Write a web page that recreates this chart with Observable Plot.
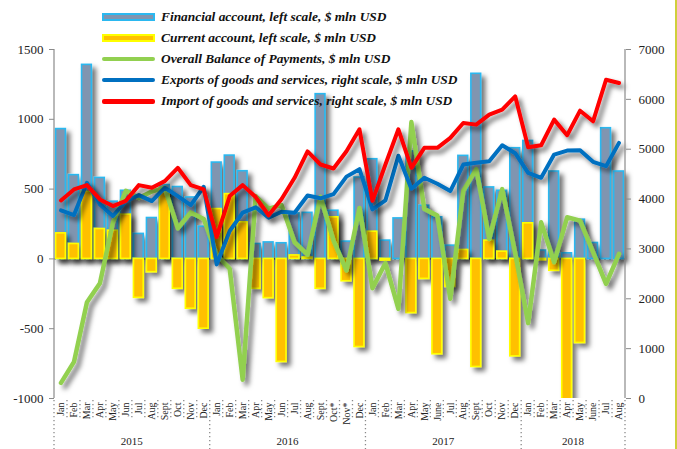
<!DOCTYPE html>
<html><head><meta charset="utf-8">
<script src="https://cdn.jsdelivr.net/npm/d3@7"></script>
<script src="https://cdn.jsdelivr.net/npm/@observablehq/plot@0.6"></script>
<style>
body{margin:0;background:#fff;}
#wrap{position:relative;width:677px;height:449px;overflow:hidden;background:#fff;}
#legend{position:absolute;left:102px;top:6px;font-family:"Liberation Serif","Times New Roman",serif;font-weight:bold;font-style:italic;font-size:13.4px;color:#111;}
.row{display:flex;align-items:center;height:21.2px;}
.sw{width:53px;margin-right:6px;box-sizing:border-box;}
#edge{position:absolute;left:675px;top:0;width:2px;height:449px;background:#cfcf3a;}
svg text{font-family:"Liberation Serif","Times New Roman",serif !important;}
</style></head><body><div id="wrap"><div id="edge"></div><div id="legend"></div></div>
<script>
const years = ["2015","2016","2017","2018"];
const monthLabels = ["Jan","Feb","Mar","Apr","May","Jun","Jul","Aug","Sept","Oct","Nov","Dec",
 "Jan","Feb","Mar","Apr","May","Jun","Jul","Aug","Sept","Oct*","Nov*","Dec",
 "Jan","Feb","Mar","Apr","May","June","Jul","Aug","Sept","Oct","Nov","Dec",
 "Jan","Feb","Mar","Apr","May","June","Jul","Aug"];
// left scale, $ mln USD
const financial = [930,600,1390,580,410,488,179,293,529,515,440,231,
 690,740,628,107,118,112,326,330,1180,345,124,583,
 714,131,290,770,381,298,95,738,1326,512,488,793,
 845,60,626,40,281,114,936,626];
const current = [183,107,480,214,202,317,-279,-95,486,-214,-357,-500,
 357,464,262,-214,-281,-738,25,10,-214,298,-160,-631,
 195,-12,0,-388,-143,-683,-200,64,-774,131,52,-698,
 255,-10,-85,-1040,-602,0,0,0];
const balance = [-888,-738,-310,-174,260,488,436,483,510,219,333,286,
 30,-71,-865,450,360,385,119,30,445,131,-83,365,
 -210,-30,-358,980,357,310,-286,488,643,143,500,40,
 -460,262,-24,298,274,48,-179,36];
// right scale, $ mln USD
const exportsGS = [3773,3680,4327,3893,3660,3960,4080,3960,4227,4060,3880,4247,
 2690,3360,3727,3835,3627,3745,3727,4070,4015,4100,4450,4600,
 3793,3973,4870,4207,4427,4307,4160,4693,4727,4760,5080,4920,
 4527,4427,4893,4973,4980,4747,4660,5127];
const importsGS = [3973,4193,4280,3993,3860,3965,4280,4227,4360,4627,4280,4193,
 3240,4060,4280,4040,3675,4000,4427,4955,4693,4613,4960,5400,
 3965,4693,5400,4627,5027,5027,5227,5527,5493,5693,5793,6060,
 5040,5080,5593,5280,5773,5560,6393,6327];
const leftTicks = [-1000,-500,0,500,1000,1500];
const rightTicks = [0,1000,2000,3000,4000,5000,6000,7000];
const legendItems = [
 {label:"Financial account, left scale, $ mln USD", kind:"bar", fill:"#8095b0", stroke:"#2bb8f0"},
 {label:"Current account, left scale, $ mln USD", kind:"bar", fill:"#ffc000", stroke:"#ffff00"},
 {label:"Overall Balance of Payments, $ mln USD", kind:"line", stroke:"#92d050"},
 {label:"Exports of goods and services, right scale, $ mln USD", kind:"line", stroke:"#0070c0"},
 {label:"Import of goods and services, right scale, $ mln USD", kind:"line", stroke:"#ff0000"}
];

// map right scale (0..7000) onto left scale (-1000..1500)
const toLeft = v => (v - 2800) / 2.8;
const fromLeft = v => Math.round(v * 2.8 + 2800);

const rows = monthLabels.map((m, i) => ({
  i, fin: financial[i], cur: current[i], bal: balance[i],
  exp: toLeft(exportsGS[i]), imp: toLeft(importsGS[i])
}));

const serif = "'Liberation Serif', 'Times New Roman', serif";
const chart = Plot.plot({
  width: 677, height: 449,
  marginLeft: 54, marginRight: 52, marginTop: 49, marginBottom: 51,
  x: {type: "band", domain: d3.range(monthLabels.length), padding: 0, axis: null},
  y: {domain: [-1000, 1500], axis: null},
  style: {fontFamily: serif, fontSize: "13px", color: "#222", background: "transparent", overflow: "visible"},
  marks: [
    Plot.ruleY([0], {stroke: "#9a9a9a", strokeDasharray: "2,3", strokeWidth: 1.6}),
    Plot.barY(rows, {x: "i", y: "fin", fill: "#8095b0", stroke: "#2bb8f0", strokeWidth: 1.6, insetLeft: 1.6, insetRight: 1.6}),
    Plot.barY(rows, {x: "i", y: "cur", fill: "#ffc000", stroke: "#ffff00", strokeWidth: 1.6, insetLeft: 1.6, insetRight: 1.6, clip: true}),
    Plot.lineY(rows, {x: "i", y: "bal", stroke: "#92d050", strokeWidth: 4.5, curve: "linear"}),
    Plot.lineY(rows, {x: "i", y: "exp", stroke: "#0070c0", strokeWidth: 4}),
    Plot.lineY(rows, {x: "i", y: "imp", stroke: "#ff0000", strokeWidth: 4}),
    Plot.axisY(leftTicks, {anchor: "left", tickSize: 5, tickPadding: 6, label: null, stroke: "#8a8a8a", fontSize: 13, tickFormat: d => String(d)}),
    Plot.axisY(rightTicks.map(toLeft), {anchor: "right", tickSize: 5, tickPadding: 8, label: null, stroke: "#8a8a8a", fontSize: 13, tickFormat: d => String(fromLeft(d))}),
    Plot.axisX({anchor: "bottom", tickRotate: -90, tickSize: 0, tickPadding: 4, fontSize: 10, label: null, tickFormat: i => monthLabels[i]})
  ]
});

const svg = d3.select(chart);
// drop shadow
const defs = svg.insert("defs", ":first-child");
const f = defs.append("filter").attr("id", "shadow").attr("x", "-30%").attr("y", "-30%").attr("width", "160%").attr("height", "160%");
f.append("feDropShadow").attr("dx", 4).attr("dy", 4).attr("stdDeviation", 2.8).attr("flood-color", "#000").attr("flood-opacity", 0.55);
svg.selectAll('g[aria-label="bar"], g[aria-label="line"]').attr("filter", "url(#shadow)");

const xs = chart.scale("x"), ys = chart.scale("y");
const bw = xs.bandwidth;
const x0 = xs.apply(0), xEnd = xs.apply(monthLabels.length - 1) + bw;
const yTop = ys.apply(1500), yBot = ys.apply(-1000);
// axis lines
svg.append("line").attr("x1", x0).attr("x2", x0).attr("y1", yTop).attr("y2", yBot).attr("stroke", "#8a8a8a").attr("stroke-width", 1.2);
svg.append("line").attr("x1", xEnd).attr("x2", xEnd).attr("y1", yTop).attr("y2", yBot).attr("stroke", "#8a8a8a").attr("stroke-width", 1.2);
// month separators and year separators
const sep = svg.append("g").attr("stroke", "#8a8a8a").attr("stroke-width", 1.3).attr("stroke-dasharray", "1.3,2.7");
for (let i = 0; i <= monthLabels.length; i++) {
  const x = i < monthLabels.length ? xs.apply(i) : xEnd;
  const isYear = i % 12 === 0 || i === monthLabels.length;
  sep.append("line").attr("x1", x).attr("x2", x).attr("y1", yBot + 2).attr("y2", isYear ? 449 : yBot + 20);
}
// year labels
years.forEach((yr, k) => {
  const first = k * 12, last = Math.min(first + 11, monthLabels.length - 1);
  const cx = (xs.apply(first) + xs.apply(last) + bw) / 2;
  svg.append("text").attr("x", cx).attr("y", 445).attr("text-anchor", "middle")
    .attr("font-size", 11).attr("fill", "#222").text(yr);
});

document.getElementById("wrap").prepend(chart);
chart.style.position = "absolute"; chart.style.left = "0"; chart.style.top = "0";

// legend
const lg = d3.select("#legend");
legendItems.forEach(it => {
  const r = lg.append("div").attr("class", "row");
  const s = r.append("div").attr("class", "sw");
  if (it.kind === "bar") s.style("height", "8px").style("background", it.fill).style("border", `2px solid ${it.stroke}`);
  else s.style("height", "4.5px").style("background", it.stroke).style("border-radius", "2px");
  r.append("span").text(it.label);
});
</script></body></html>
